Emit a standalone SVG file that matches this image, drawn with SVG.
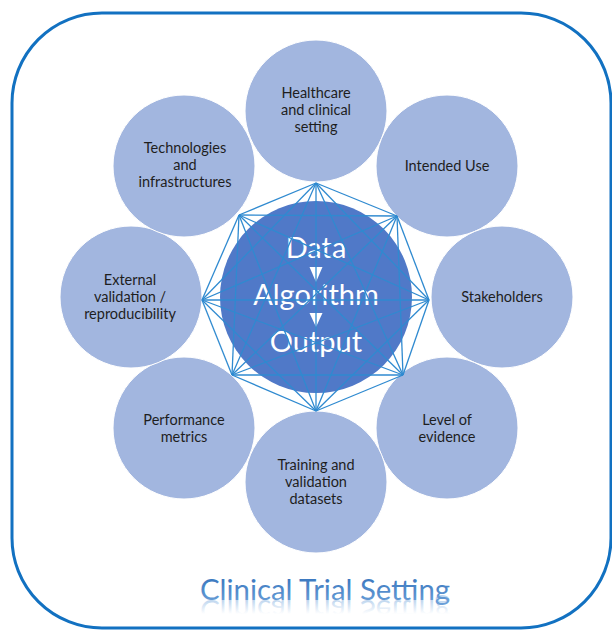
<svg xmlns="http://www.w3.org/2000/svg" width="612" height="631" viewBox="0 0 612 631">
  <defs>
    <style>
      .sat { fill: #a2b6df; stroke: #ffffff; stroke-width: 1; }
      .lbl { font-family: Lato, "Open Sans", "Liberation Sans", sans-serif; font-size: 14.5px; fill: #1e1e1e; text-anchor: middle; }
      .core-txt { font-family: Lato, "Open Sans", "Liberation Sans", sans-serif; font-size: 29px; fill: #ffffff; text-anchor: middle; }
      .link { stroke: #2f8ad0; stroke-width: 1.3; fill: none; }
      .title { font-family: Lato, "Open Sans", "Liberation Sans", sans-serif; font-size: 29px; text-anchor: middle; }
    </style>
    <linearGradient id="titleFill" x1="0" y1="578" x2="0" y2="606" gradientUnits="userSpaceOnUse">
      <stop offset="0" stop-color="#3b78bf"/>
      <stop offset="1" stop-color="#6fa3da"/>
    </linearGradient>
    <linearGradient id="titleReflect" x1="0" y1="600" x2="0" y2="586" gradientUnits="userSpaceOnUse">
      <stop offset="0" stop-color="#6fa3da" stop-opacity="0.45"/>
      <stop offset="1" stop-color="#6fa3da" stop-opacity="0"/>
    </linearGradient>
  </defs>

  <rect width="612" height="631" fill="#ffffff"/>

  <!-- outer frame -->
  <rect id="frame" x="12" y="13" width="599" height="615" rx="90" ry="90" fill="none" stroke="#1271c1" stroke-width="3"/>

  <!-- satellite nodes -->
  <g id="node-healthcare">
    <circle class="sat" cx="316" cy="111" r="71"/>
    <text class="lbl" x="316" y="98">Healthcare</text>
    <text class="lbl" x="316" y="115">and clinical</text>
    <text class="lbl" x="316" y="132">setting</text>
  </g>
  <g id="node-intended-use">
    <circle class="sat" cx="447" cy="166" r="71"/>
    <text class="lbl" x="447" y="171">Intended Use</text>
  </g>
  <g id="node-stakeholders">
    <circle class="sat" cx="502" cy="297" r="71"/>
    <text class="lbl" x="502" y="302">Stakeholders</text>
  </g>
  <g id="node-evidence">
    <circle class="sat" cx="447" cy="428" r="71"/>
    <text class="lbl" x="447" y="425">Level of</text>
    <text class="lbl" x="447" y="442">evidence</text>
  </g>
  <g id="node-datasets">
    <circle class="sat" cx="316" cy="482" r="71"/>
    <text class="lbl" x="316" y="470">Training and</text>
    <text class="lbl" x="316" y="487">validation</text>
    <text class="lbl" x="316" y="504">datasets</text>
  </g>
  <g id="node-performance">
    <circle class="sat" cx="184" cy="428" r="71"/>
    <text class="lbl" x="184" y="425">Performance</text>
    <text class="lbl" x="184" y="442">metrics</text>
  </g>
  <g id="node-external">
    <circle class="sat" cx="131" cy="297" r="71"/>
    <text class="lbl" x="130" y="285">External</text>
    <text class="lbl" x="130" y="302">validation /</text>
    <text class="lbl" x="130" y="319">reproducibility</text>
  </g>
  <g id="node-technologies">
    <circle class="sat" cx="184" cy="166" r="71"/>
    <text class="lbl" x="185" y="153">Technologies</text>
    <text class="lbl" x="185" y="170">and</text>
    <text class="lbl" x="185" y="187">infrastructures</text>
  </g>

  <!-- central node -->
  <g id="node-core">
    <circle cx="316" cy="297" r="96" fill="#5079c8"/>
    <text class="core-txt" x="316" y="258">Data</text>
    <polygon points="309.5,267 322.5,267 316,282" fill="#ffffff"/>
    <text class="core-txt" x="316" y="305">Algorithm</text>
    <polygon points="309.5,313 322.5,313 316,327" fill="#ffffff"/>
    <text class="core-txt" x="316" y="352">Output</text>
  </g>

  <!-- connectors: every pair of octagon vertices -->
  <g id="connectors" class="link">
    <!-- sides -->
    <line x1="316" y1="183" x2="397" y2="216"/>
    <line x1="397" y1="216" x2="429" y2="300"/>
    <line x1="429" y1="300" x2="403" y2="375"/>
    <line x1="403" y1="375" x2="316" y2="411"/>
    <line x1="316" y1="411" x2="232" y2="375"/>
    <line x1="232" y1="375" x2="202" y2="300"/>
    <line x1="202" y1="300" x2="239" y2="215"/>
    <line x1="239" y1="215" x2="316" y2="183"/>
    <!-- skip-one diagonals -->
    <line x1="316" y1="183" x2="429" y2="300"/>
    <line x1="397" y1="216" x2="403" y2="375"/>
    <line x1="429" y1="300" x2="316" y2="411"/>
    <line x1="403" y1="375" x2="232" y2="375"/>
    <line x1="316" y1="411" x2="202" y2="300"/>
    <line x1="232" y1="375" x2="239" y2="215"/>
    <line x1="202" y1="300" x2="316" y2="183"/>
    <line x1="239" y1="215" x2="397" y2="216"/>
    <!-- skip-two diagonals -->
    <line x1="316" y1="183" x2="403" y2="375"/>
    <line x1="397" y1="216" x2="316" y2="411"/>
    <line x1="429" y1="300" x2="232" y2="375"/>
    <line x1="403" y1="375" x2="202" y2="300"/>
    <line x1="316" y1="411" x2="239" y2="215"/>
    <line x1="232" y1="375" x2="316" y2="183"/>
    <line x1="202" y1="300" x2="397" y2="216"/>
    <line x1="239" y1="215" x2="429" y2="300"/>
    <!-- diameters -->
    <line x1="316" y1="183" x2="316" y2="411"/>
    <line x1="397" y1="216" x2="232" y2="375"/>
    <line x1="429" y1="300" x2="202" y2="300"/>
    <line x1="403" y1="375" x2="239" y2="215"/>
  </g>

  <!-- caption with soft reflection -->
  <g id="caption">
    <text class="title" x="325" y="600" fill="url(#titleFill)" textLength="250" lengthAdjust="spacingAndGlyphs">Clinical Trial Setting</text>
    <text class="title" x="325" y="600" fill="url(#titleReflect)" textLength="250" lengthAdjust="spacingAndGlyphs" transform="matrix(1 0 0 -1 0 1200)">Clinical Trial Setting</text>
  </g>
</svg>
